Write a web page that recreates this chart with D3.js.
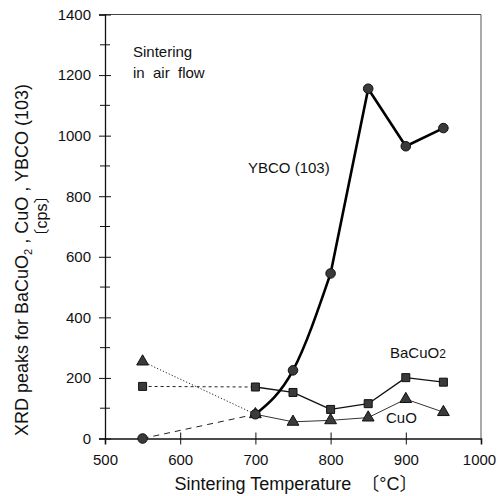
<!DOCTYPE html>
<html>
<head>
<meta charset="utf-8">
<script src="https://cdn.jsdelivr.net/npm/d3@7"></script>
<style>
  body { margin: 0; background: #fff; }
  text { font-family: "Liberation Sans", Arial, sans-serif; fill: #111; }
  .cjk { font-family: "Noto Sans CJK JP", sans-serif; }
</style>
</head>
<body>
<div id="chart"></div>
<script>
// Data
const temps = [550, 700, 750, 800, 850, 900, 950]
const ybco = [0, 80, 225, 545, 1155, 965, 1025]
const bacuo2 = [172, 170, 152, 96, 115, 201, 186]
const cuo = [254, 80, 55, 60, 69, 130, 87]
const xTicks = [500, 600, 700, 800, 900, 1000]
const yTicks = [0, 200, 400, 600, 800, 1000, 1200, 1400]
const yMinor = [100, 300, 500, 700, 900, 1100, 1300]

const W = 498, H = 496
const plot = { left: 105, right: 481, top: 14.5, bottom: 438.5 }

const svg = d3.select("#chart").append("svg")
  .attr("width", W).attr("height", H)

const x = d3.scaleLinear().domain([500, 1000]).range([plot.left, plot.right])
const y = d3.scaleLinear().domain([0, 1400]).range([plot.bottom, plot.top])

// frame (top and right thin)
svg.append("line").attr("x1", plot.left).attr("x2", plot.right)
  .attr("y1", plot.top).attr("y2", plot.top)
  .attr("stroke", "#444").attr("stroke-width", 1)
svg.append("line").attr("x1", plot.right).attr("x2", plot.right)
  .attr("y1", plot.top).attr("y2", plot.bottom)
  .attr("stroke", "#555").attr("stroke-width", 1)

// y axis
const yAxis = svg.append("g")
  .attr("transform", `translate(${plot.left},0)`)
  .call(d3.axisLeft(y).tickValues(yTicks).tickFormat(d3.format("d")).tickSize(6).tickPadding(8))
yAxis.select(".domain").attr("stroke", "#111").attr("stroke-width", 1.3)
yAxis.selectAll(".tick line").attr("x2", 6).attr("x1", -6).attr("stroke", "#111")
yAxis.selectAll(".tick text").style("font-size", "15px")
yAxis.selectAll(".minor").data(yMinor).join("line")
  .attr("x1", -5).attr("x2", 5)
  .attr("y1", d => y(d)).attr("y2", d => y(d))
  .attr("stroke", "#111")

// x axis
const xAxis = svg.append("g")
  .attr("transform", `translate(0,${plot.bottom})`)
  .call(d3.axisBottom(x).tickValues(xTicks).tickFormat(d3.format("d")).tickSize(6).tickPadding(10))
xAxis.select(".domain").attr("stroke", "#111").attr("stroke-width", 1.6)
xAxis.selectAll(".tick line").attr("y1", -6).attr("y2", 6).attr("stroke", "#111")
  .attr("opacity", d => (d === 500 || d === 1000) ? 0 : 1)
xAxis.selectAll(".tick text").style("font-size", "15px")
  .attr("dx", d => d === 1000 ? -2 : 0)

// axis titles
const xt = svg.append("text")
  .attr("x", 296).attr("y", 490)
  .attr("text-anchor", "middle")
  .style("font-size", "18px")
  .style("white-space", "pre")
xt.append("tspan").text("Sintering Temperature  ")
xt.append("tspan").attr("class", "cjk").text("〔")
xt.append("tspan").text("°C")
xt.append("tspan").attr("class", "cjk").text("〕")

const yt = svg.append("text")
  .attr("transform", "translate(28,260) rotate(-90)")
  .attr("text-anchor", "middle")
  .style("font-size", "18px")
yt.append("tspan").text("XRD peaks for BaCuO")
yt.append("tspan").attr("dy", 4).style("font-size", "11px").text("2")
yt.append("tspan").attr("dy", -4).text(" , CuO , YBCO (103)")
const yu = svg.append("text")
  .attr("transform", "translate(47,216) rotate(-90)")
  .attr("text-anchor", "middle")
  .style("font-size", "16px")
yu.append("tspan").attr("class", "cjk").text("〔")
yu.append("tspan").text("cps")
yu.append("tspan").attr("class", "cjk").text("〕")

// annotation
svg.append("text").attr("x", 133).attr("y", 57).style("font-size", "15px").text("Sintering")
svg.append("text").attr("x", 133).attr("y", 78).style("font-size", "15px")
  .style("white-space", "pre").text("in  air  flow")

// series helpers
const pts = vals => temps.map((t, i) => [t, vals[i]])
const line = d3.line().x(d => x(d[0])).y(d => y(d[1]))
const smooth = d3.line().x(d => x(d[0])).y(d => y(d[1])).curve(d3.curveMonotoneX)

function drawSeries(vals, opt) {
  const p = pts(vals)
  svg.append("path").attr("d", line(p.slice(0, 2)))
    .attr("fill", "none").attr("stroke", "#222")
    .attr("stroke-width", 1).attr("stroke-dasharray", opt.dash)
  const solid = opt.smooth ? smooth(p.slice(1, 4)) + line(p.slice(3)).replace(/^M/, "L") : line(p.slice(1))
  svg.append("path").attr("d", solid)
    .attr("fill", "none").attr("stroke", opt.color).attr("stroke-width", opt.width)
    .attr("stroke-linejoin", "round")
}

function marker(vals, shape, size) {
  const sym = d3.symbol().type(shape).size(size)
  svg.append("g").selectAll("path").data(pts(vals)).join("path")
    .attr("transform", d => `translate(${x(d[0])},${y(d[1])})`)
    .attr("d", sym)
    .attr("fill", "#3a3a3a").attr("stroke", "#111").attr("stroke-width", 1)
}

drawSeries(cuo, { dash: "1.2,2", color: "#333", width: 1 })
drawSeries(bacuo2, { dash: "3,3", color: "#111", width: 1.3 })
drawSeries(ybco, { dash: "6,5", color: "#000", width: 2.6, smooth: true })
marker(cuo, d3.symbolTriangle, 60)
marker(bacuo2, d3.symbolSquare, 64)
marker(ybco, d3.symbolCircle, 72)

// series labels
svg.append("text").attr("x", 248).attr("y", 173).style("font-size", "15px").text("YBCO (103)")
const bl = svg.append("text").attr("x", 390).attr("y", 358).style("font-size", "15px")
bl.append("tspan").text("BaCuO")
bl.append("tspan").style("font-size", "12px").text("2")
svg.append("text").attr("x", 386).attr("y", 423).style("font-size", "15px").text("CuO")
</script>
</body>
</html>
